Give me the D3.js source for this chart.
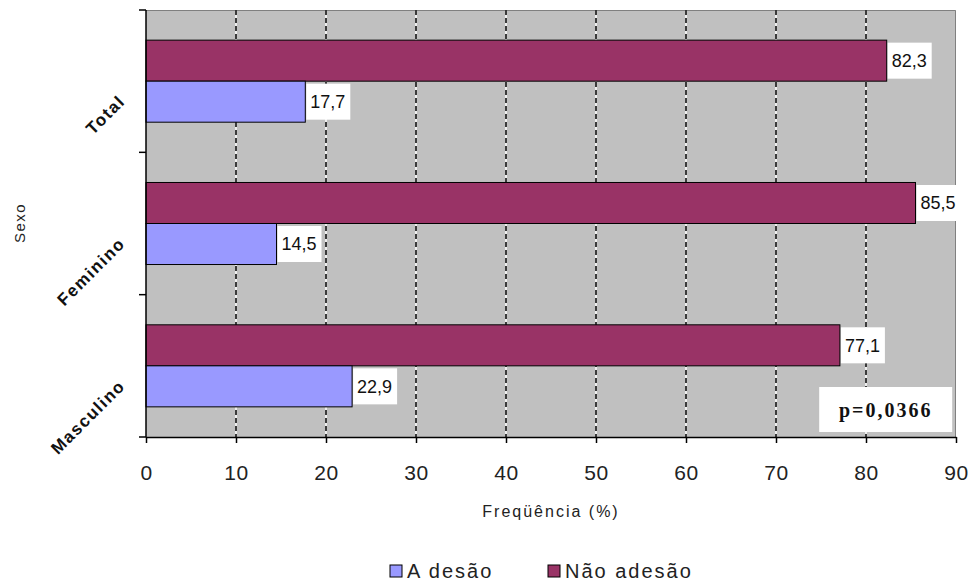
<!DOCTYPE html>
<html>
<head>
<meta charset="utf-8">
<script src="https://cdn.jsdelivr.net/npm/d3@7"></script>
<style>
  html, body { margin: 0; padding: 0; background: #fff; }
  svg { display: block; }
</style>
</head>
<body>
<svg id="chart" width="974" height="584"></svg>
<script>
// Adherence by sex (%)
const categories = ["Total", "Feminino", "Masculino"];
const seriesNames = ["Não adesão", "Adesão"];
const naoAdesao = [82.3, 85.5, 77.1];
const adesao = [17.7, 14.5, 22.9];
const xTicks = [0, 10, 20, 30, 40, 50, 60, 70, 80, 90];
const seriesColors = ["#993366", "#9999ff"];
const pValueText = "p=0,0366";

const rows = categories.map((c, i) => ({
  cat: c,
  values: [
    { key: seriesNames[0], v: naoAdesao[i] },
    { key: seriesNames[1], v: adesao[i] }
  ]
}));

const svg = d3.select("#chart");
const m = { left: 146, top: 10, right: 18, bottom: 147 };
const W = 974 - m.left - m.right;
const H = 584 - m.top - m.bottom;
const g = svg.append("g").attr("transform", `translate(${m.left},${m.top})`);

const x = d3.scaleLinear().domain([0, 90]).range([0, W]);
const y0 = d3.scaleBand().domain(categories).range([0, H]).padding(0);
const y1 = d3.scaleBand().domain(seriesNames).range([0, y0.bandwidth()])
  .paddingInner(0).paddingOuter(0.735);
const color = d3.scaleOrdinal().domain(seriesNames).range(seriesColors);

// plot background
g.append("rect").attr("width", W).attr("height", H).attr("fill", "#c0c0c0");
g.append("path")
  .attr("d", `M0,0.5H${W - 0.5}V${H}`)
  .attr("fill", "none").attr("stroke", "#808080").attr("stroke-width", 1);

// dashed gridlines
const grid = g.append("g");
xTicks.filter(t => t > 0 && t < 90).forEach(t => {
  grid.append("line")
    .attr("x1", x(t)).attr("x2", x(t)).attr("y1", 0).attr("y2", H)
    .attr("stroke", "#ffffff").attr("stroke-width", 1.5);
  grid.append("line")
    .attr("x1", x(t)).attr("x2", x(t)).attr("y1", 0).attr("y2", H)
    .attr("stroke", "#000000").attr("stroke-width", 1.5)
    .attr("stroke-dasharray", "5,3");
});

// bars
const groups = g.selectAll(".grp").data(rows).join("g")
  .attr("transform", d => `translate(0,${y0(d.cat)})`);
groups.selectAll("rect").data(d => d.values).join("rect")
  .attr("x", 0)
  .attr("y", d => y1(d.key))
  .attr("width", d => x(d.v))
  .attr("height", y1.bandwidth())
  .attr("fill", d => color(d.key))
  .attr("stroke", "#000").attr("stroke-width", 1);

// value labels on white boxes
const lab = groups.selectAll(".lab").data(d => d.values).join("g")
  .attr("transform", d => `translate(${x(d.v) + 1},${y1(d.key) + y1.bandwidth() / 2})`);
lab.append("rect").attr("x", 0).attr("y", -18).attr("width", 44).attr("height", 36)
  .attr("fill", "#ffffff");
lab.append("text").attr("x", 4).attr("y", 0).attr("dy", "0.36em")
  .attr("font-family", "Liberation Sans, Arial, sans-serif")
  .attr("font-size", 18).attr("fill", "#111")
  .text(d => d3.format(".1f")(d.v).replace(".", ","));

// x axis
const xAxis = g.append("g").attr("transform", `translate(0,${H})`)
  .call(d3.axisBottom(x).tickValues(xTicks).tickSize(6).tickPadding(22).tickSizeOuter(0));
xAxis.select(".domain").attr("stroke", "#000").attr("stroke-width", 1.5);
xAxis.selectAll(".tick line").attr("stroke", "#000").attr("stroke-width", 1.5);
xAxis.selectAll(".tick text")
  .attr("font-family", "Liberation Sans, Arial, sans-serif")
  .attr("font-size", 21).attr("letter-spacing", 0.5).attr("fill", "#222");

// y axis: line plus ticks at category boundaries
g.append("line").attr("x1", 0).attr("x2", 0).attr("y1", 0).attr("y2", H)
  .attr("stroke", "#000").attr("stroke-width", 1.5);
const bounds = categories.map(c => y0(c)).concat([H]);
g.selectAll(".ytick").data(bounds).join("line")
  .attr("x1", -7).attr("x2", 0).attr("y1", d => d).attr("y2", d => d)
  .attr("stroke", "#000").attr("stroke-width", 1.5);

// rotated category labels
g.selectAll(".cat").data(categories).join("text")
  .attr("transform", d => `translate(-24,${y0(d) + y0.bandwidth() / 2 + 17}) rotate(-45)`)
  .attr("text-anchor", "end").attr("dy", "0.35em")
  .attr("font-family", "Liberation Sans, Arial, sans-serif")
  .attr("font-size", 17).attr("font-weight", "bold").attr("letter-spacing", 1.5)
  .attr("fill", "#111")
  .text(d => d);

// axis titles
svg.append("text")
  .attr("transform", `translate(25,223) rotate(-90)`)
  .attr("text-anchor", "middle")
  .attr("font-family", "Liberation Sans, Arial, sans-serif")
  .attr("font-size", 15).attr("letter-spacing", 1.5).attr("fill", "#222")
  .text("Sexo");
svg.append("text")
  .attr("x", m.left + W / 2).attr("y", 517)
  .attr("text-anchor", "middle")
  .attr("font-family", "Liberation Sans, Arial, sans-serif")
  .attr("font-size", 16).attr("letter-spacing", 2).attr("fill", "#222")
  .text("Freqüência (%)");

// p-value box
const pBox = g.append("g").attr("transform", `translate(${x(74.8)},${H - 50})`);
pBox.append("rect").attr("width", 133).attr("height", 45).attr("fill", "#fff");
pBox.append("text").attr("x", 66.5).attr("y", 23).attr("dy", "0.35em")
  .attr("text-anchor", "middle")
  .attr("font-family", "Liberation Serif, Times New Roman, serif")
  .attr("font-size", 20).attr("font-weight", "bold").attr("letter-spacing", 2)
  .attr("fill", "#111")
  .text(pValueText);

// legend
const legendItems = [seriesNames[1], seriesNames[0]];
const legend = svg.append("g").attr("transform", "translate(390,571)");
const li = legend.selectAll("g").data(legendItems).join("g")
  .attr("transform", (d, i) => `translate(${i * 158},0)`);
li.append("rect").attr("x", 0).attr("y", -6).attr("width", 12).attr("height", 12)
  .attr("fill", d => color(d)).attr("stroke", "#000").attr("stroke-width", 1);
li.append("text").attr("x", 17).attr("y", 0).attr("dy", "0.36em")
  .attr("font-family", "Liberation Sans, Arial, sans-serif")
  .attr("font-size", 20).attr("letter-spacing", 2).attr("fill", "#222")
  .text(d => d === "Adesão" ? "A desão" : d);
</script>
</body>
</html>
